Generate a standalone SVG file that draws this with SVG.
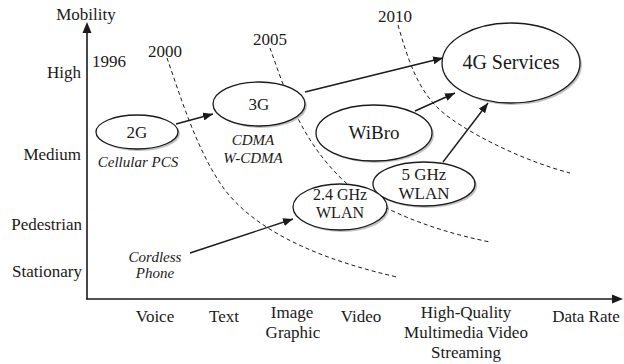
<svg xmlns="http://www.w3.org/2000/svg" width="624" height="364" viewBox="0 0 624 364">
<style>
text{font-family:'Liberation Serif','Times New Roman',serif;fill:#1a1a1a;font-size:17px}
.it{font-style:italic;font-size:15px}
.m{text-anchor:middle}
.r{text-anchor:end}
.ax{stroke:#1a1a1a;stroke-width:1.6;fill:none}
.dash{stroke:#1a1a1a;stroke-width:1;fill:none;stroke-dasharray:4 3}
.node{fill:#fff;stroke:#1a1a1a;stroke-width:1.3}
.sh{fill:#9a9a9a;opacity:0.6}
.arr{stroke:#1a1a1a;stroke-width:1.4;fill:none;marker-end:url(#ah)}
</style>
<defs>
<marker id="ah" viewBox="0 0 10 8" refX="10" refY="4" markerWidth="10" markerHeight="8" markerUnits="userSpaceOnUse" orient="auto">
<path d="M0,0 L10,4 L0,8 z" fill="#1a1a1a"/>
</marker>
</defs>
<g id="axes">
<line class="ax" x1="87" y1="299" x2="87" y2="32"/>
<path d="M87,22 L82.5,33 L91.5,33 z" fill="#1a1a1a"/>
<line class="ax" x1="86" y1="299" x2="612" y2="299"/>
<path d="M623,299 L612,294.5 L612,303.5 z" fill="#1a1a1a"/>
<text class="m" x="86" y="20">Mobility</text>
<text class="r" x="81" y="78">High</text>
<text class="r" x="81" y="160">Medium</text>
<text class="r" x="82" y="230">Pedestrian</text>
<text class="r" x="82" y="277">Stationary</text>
<text class="m" x="155" y="322">Voice</text>
<text class="m" x="224" y="322">Text</text>
<text class="m" x="292" y="318">Image</text>
<text class="m" x="293" y="338">Graphic</text>
<text class="m" x="361" y="322">Video</text>
<text class="m" x="466" y="318">High-Quality</text>
<text class="m" x="466" y="338">Multimedia Video</text>
<text class="m" x="466" y="358">Streaming</text>
<text class="m" x="586" y="322">Data Rate</text>
</g>
<g id="years">
<text x="92" y="67">1996</text>
<text x="148" y="57">2000</text>
<text x="253" y="45">2005</text>
<text x="378" y="22">2010</text>
<path class="dash" d="M167,58 C180,95 195,145 220,183 S300,255 397,277"/>
<path class="dash" d="M270,48 C285,90 300,140 345,182 C370,203 420,228 490,242"/>
<path class="dash" d="M398,25 C408,60 418,90 440,110 S520,160 570,173"/>
</g>
<g id="n2g">
<ellipse class="sh" cx="139" cy="134" rx="41" ry="17"/>
<ellipse class="node" cx="137" cy="132" rx="41" ry="17"/>
<text class="m" x="137" y="138">2G</text>
<text class="m it" x="138" y="167">Cellular PCS</text>
</g>
<g id="n3g">
<ellipse class="sh" cx="261" cy="106" rx="46" ry="22"/>
<ellipse class="node" cx="259" cy="104" rx="46" ry="22"/>
<text class="m" x="259" y="110">3G</text>
<text class="m it" x="253" y="145">CDMA</text>
<text class="m it" x="253" y="163">W-CDMA</text>
</g>
<g id="n4g">
<ellipse class="sh" cx="513" cy="65" rx="69" ry="40"/>
<ellipse class="node" cx="511" cy="63" rx="69" ry="40"/>
<text class="m" x="511" y="69" style="font-size:20px">4G Services</text>
</g>
<g id="nwibro">
<ellipse class="sh" cx="376" cy="135" rx="58" ry="28"/>
<ellipse class="node" cx="374" cy="133" rx="58" ry="28"/>
<text class="m" x="374" y="139" style="font-size:19px">WiBro</text>
</g>
<g id="n5g">
<ellipse class="sh" cx="426" cy="186" rx="51" ry="22"/>
<ellipse class="node" cx="424" cy="184" rx="51" ry="22"/>
<text class="m" x="424" y="180">5 GHz</text>
<text class="m" x="424" y="199">WLAN</text>
</g>
<g id="n24g">
<ellipse class="sh" cx="342" cy="209" rx="47" ry="23"/>
<ellipse class="node" cx="340" cy="207" rx="47" ry="23"/>
<text class="m" x="340" y="200" style="font-size:16px">2.4 GHz</text>
<text class="m" x="340" y="218" style="font-size:16px">WLAN</text>
</g>
<g id="ncordless">
<text class="m it" x="155" y="262">Cordless</text>
<text class="m it" x="155" y="278">Phone</text>
</g>
<g id="connectors">
<line class="arr" x1="176" y1="124" x2="213" y2="114"/>
<line class="arr" x1="305" y1="92" x2="443" y2="58"/>
<line class="arr" x1="415" y1="111" x2="455" y2="93"/>
<line class="arr" x1="443" y1="162" x2="488" y2="103"/>
<line class="arr" x1="190" y1="253" x2="293" y2="219"/>
</g>
</svg>
